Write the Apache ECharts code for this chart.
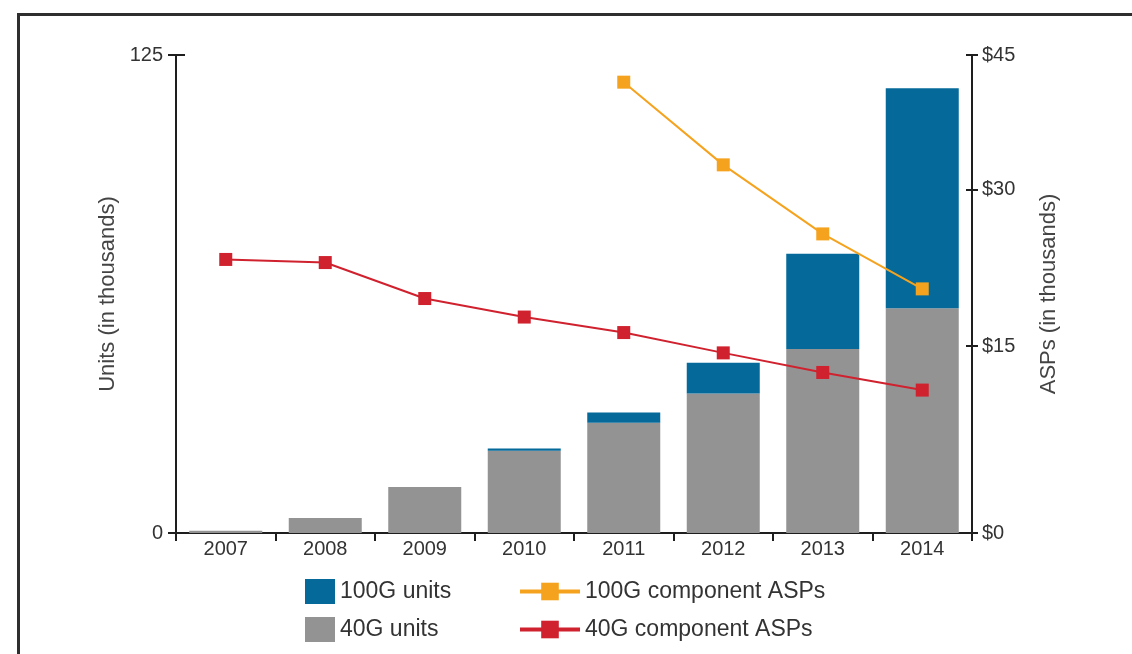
<!DOCTYPE html>
<html>
<head>
<meta charset="utf-8">
<script src="https://cdn.jsdelivr.net/npm/echarts@6/dist/echarts.min.js"></script>
<style>
  html, body { margin: 0; padding: 0; background: #ffffff; }
  #wrap { position: relative; width: 1132px; height: 654px; overflow: hidden; }
  #frame { position: absolute; left: 17px; top: 13px; right: -10px; bottom: -10px;
           border-top: 3px solid #2e2e2e; border-left: 3px solid #2e2e2e; }
  #chart { position: absolute; left: 0; top: 0; width: 1132px; height: 654px; }
</style>
</head>
<body>
<div id="wrap">
  <div id="frame"></div>
  <div id="chart"></div>
</div>
<script>
// Years on the category axis
const years = ['2007', '2008', '2009', '2010', '2011', '2012', '2013', '2014'];

// Units shipped, in thousands
const units40G  = [0.6, 3.9, 12.0, 21.5, 28.8, 36.5, 48.1, 58.8];
const units100G = [0, 0, 0, 0.6, 2.7, 8.0, 24.9, 57.5];

// Average selling prices, in thousands of dollars
const asp100G = [null, null, null, null, 41.8, 32.6, 25.5, 20.2];
const asp40G  = [23.0, 22.7, 19.3, 17.6, 16.2, 14.4, 12.7, 11.2];

// Tick values
const unitTicks = [0, 125];
const aspTicks = [0, 15, 30, 45];

// The dollar axis is compressed toward its top: a log scale over (value + ASP_SHIFT)
const ASP_SHIFT = 70;
const shift = v => (v == null ? null : v + ASP_SHIFT);

const FONT = "'Liberation Sans', Arial, sans-serif";
const TEXT = '#333333';
const AXIS = '#1e1e1e';
const BLUE = '#05699a';
const GREY = '#939393';
const ORANGE = '#f5a31e';
const RED = '#d0212e';

const chart = echarts.init(document.getElementById('chart'), null, { renderer: 'canvas' });

const aspAxisBase = {
  type: 'log',
  logBase: 10,
  position: 'right',
  min: shift(aspTicks[0]),
  max: shift(aspTicks[aspTicks.length - 1]),
  splitLine: { show: false }
};

const legendText = { fontFamily: FONT, fontSize: 23, color: TEXT, lineHeight: 25 };

chart.setOption({
  animation: false,
  backgroundColor: 'transparent',
  grid: { left: 176, right: 160, top: 55, bottom: 121 },
  legend: [
    {
      data: [
        { name: '100G units', icon: 'rect' },
        { name: '40G units', icon: 'rect' }
      ],
      orient: 'vertical',
      left: 300,
      top: 574,
      itemWidth: 30,
      itemHeight: 25,
      itemGap: 13,
      textStyle: legendText
    },
    {
      data: [
        { name: '100G component ASPs', lineStyle: { width: 4 } },
        { name: '40G component ASPs', lineStyle: { width: 4 } }
      ],
      orient: 'vertical',
      left: 513,
      top: 574,
      itemWidth: 60,
      itemHeight: 22,
      itemGap: 13,
      textStyle: legendText
    }
  ],
  xAxis: {
    type: 'category',
    data: years,
    boundaryGap: true,
    axisLine: { lineStyle: { color: AXIS, width: 2 } },
    axisTick: { show: true, length: 8, lineStyle: { color: AXIS, width: 2 } },
    axisLabel: { fontFamily: FONT, fontSize: 20, color: TEXT, margin: 6 }
  },
  yAxis: [
    {
      type: 'value',
      position: 'left',
      min: unitTicks[0],
      max: unitTicks[1],
      interval: unitTicks[1] - unitTicks[0],
      name: 'Units (in thousands)',
      nameLocation: 'middle',
      nameRotate: 90,
      nameGap: 56,
      nameTextStyle: { fontFamily: FONT, fontSize: 22, color: '#444444' },
      axisLine: { show: true, lineStyle: { color: AXIS, width: 2 } },
      axisTick: { show: true, length: 8, lineStyle: { color: AXIS, width: 2 } },
      axisLabel: { fontFamily: FONT, fontSize: 20, color: TEXT, margin: 13 },
      splitLine: { show: false }
    },
    Object.assign({}, aspAxisBase, {
      name: 'ASPs (in thousands)',
      nameLocation: 'middle',
      nameRotate: 90,
      nameGap: 66,
      nameTextStyle: { fontFamily: FONT, fontSize: 22, color: '#444444' },
      axisLine: { show: true, lineStyle: { color: AXIS, width: 2 } },
      axisTick: { show: true, length: 6, lineStyle: { color: AXIS, width: 2 },
                  customValues: aspTicks.map(shift) },
      axisLabel: { fontFamily: FONT, fontSize: 20, color: TEXT, margin: 10,
                   customValues: aspTicks.map(shift),
                   formatter: v => '$' + Math.round(v - ASP_SHIFT) }
    }),
    {
      // inner half of the unit-axis ticks
      type: 'value',
      position: 'left',
      min: unitTicks[0],
      max: unitTicks[1],
      interval: unitTicks[1] - unitTicks[0],
      axisLine: { show: false },
      axisTick: { show: true, inside: true, length: 9, lineStyle: { color: AXIS, width: 2 } },
      axisLabel: { show: false },
      splitLine: { show: false }
    },
    Object.assign({}, aspAxisBase, {
      // inner half of the dollar-axis ticks
      axisLine: { show: false },
      axisTick: { show: true, inside: true, length: 6, lineStyle: { color: AXIS, width: 2 },
                  customValues: aspTicks.map(shift) },
      axisLabel: { show: false, customValues: aspTicks.map(shift) }
    })
  ],
  series: [
    {
      name: '40G units',
      type: 'bar',
      stack: 'units',
      yAxisIndex: 0,
      barWidth: 73,
      itemStyle: { color: GREY },
      data: units40G
    },
    {
      name: '100G units',
      type: 'bar',
      stack: 'units',
      yAxisIndex: 0,
      barWidth: 73,
      itemStyle: { color: BLUE },
      data: units100G
    },
    {
      name: '100G component ASPs',
      type: 'line',
      yAxisIndex: 1,
      symbol: 'rect',
      symbolSize: 13,
      showAllSymbol: true,
      connectNulls: false,
      lineStyle: { color: ORANGE, width: 2 },
      itemStyle: { color: ORANGE },
      data: asp100G.map(shift),
      z: 5
    },
    {
      name: '40G component ASPs',
      type: 'line',
      yAxisIndex: 1,
      symbol: 'rect',
      symbolSize: 13,
      showAllSymbol: true,
      lineStyle: { color: RED, width: 2 },
      itemStyle: { color: RED },
      data: asp40G.map(shift),
      z: 5
    }
  ]
});
</script>
</body>
</html>
